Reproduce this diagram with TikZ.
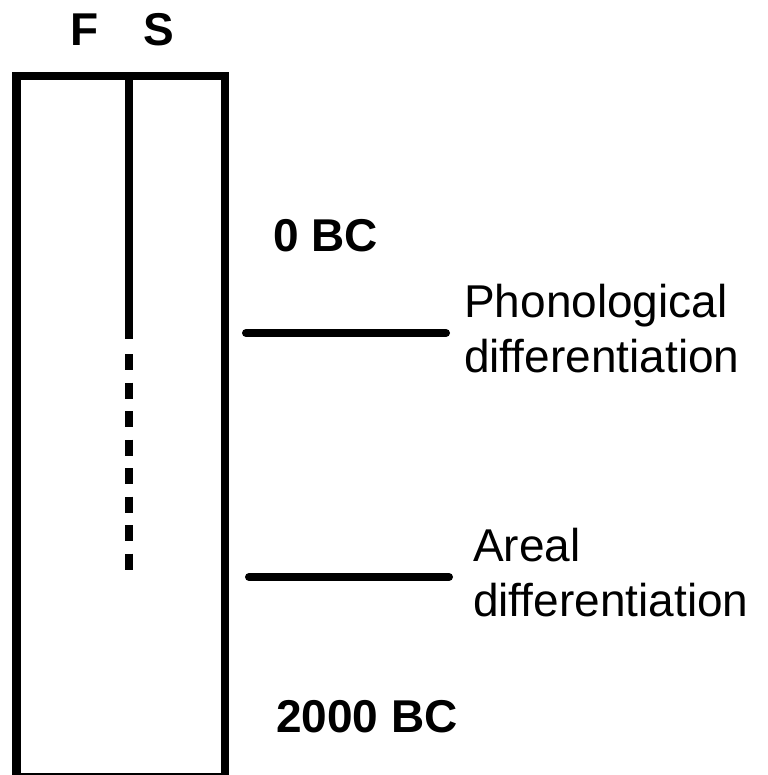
\documentclass[tikz,border=0pt]{standalone}
\usepackage{fontspec}
\setmainfont{Liberation Sans}[Ligatures=NoCommon]
\usetikzlibrary{positioning}

\begin{document}
\begin{tikzpicture}[x=1pt,y=-1pt,
% Line styles
		frame/.style={line width=8.5pt
							    , line cap=butt},
		stroke/.style={line width=8pt
							    , line cap=round},
		broken/.style={line width=8.5pt
							    , dash pattern=on 16pt off 12.5pt},
% Text styles
		head/.style={font=\bfseries\fontsize{46}{55}\selectfont
							    , inner sep=0pt
							    , anchor=base},
		date/.style={font=\bfseries\fontsize{46}{55}\selectfont
							    , inner sep=0pt
							    , anchor=base west},
		note/.style={font=\fontsize{46}{55}\selectfont
							    , align=left
							    , inner sep=0pt
							    , yshift=4pt},
    node distance=18pt
	]
	\useasboundingbox (0,0) rectangle (767,775);
%% Column headings
		\node [head] (colF) at (85,46) {F};
		\node [head] (colS) at (158.5,46) {S};
%% Box and the split line
		\draw [frame] (16.5,76) rectangle (225,777);
		\coordinate (split) at (129,76);
		\coordinate (splitend) at (129,339);
		\draw [frame] (split) -- (splitend);
		\draw [broken] (129,354) -- (129,570);
%% Dates
		\node [date] (top) at (273,252) {0 BC};
		\node [date] (bottom) at (276,732) {2000 BC};
%% Markers and their labels
		\coordinate (m1a) at (246,333);
		\coordinate (m1b) at (446,333);
		\coordinate (m2a) at (249,577);
		\coordinate (m2b) at (449,577);
		\draw [stroke] (m1a) -- (m1b);
		\draw [stroke] (m2a) -- (m2b);
		\node [note] (phon) [right=of m1b] {Phonological\\differentiation};
		\node [note] (areal) [right=24pt of m2b] {Areal\\differentiation};
\end{tikzpicture}
\end{document}
